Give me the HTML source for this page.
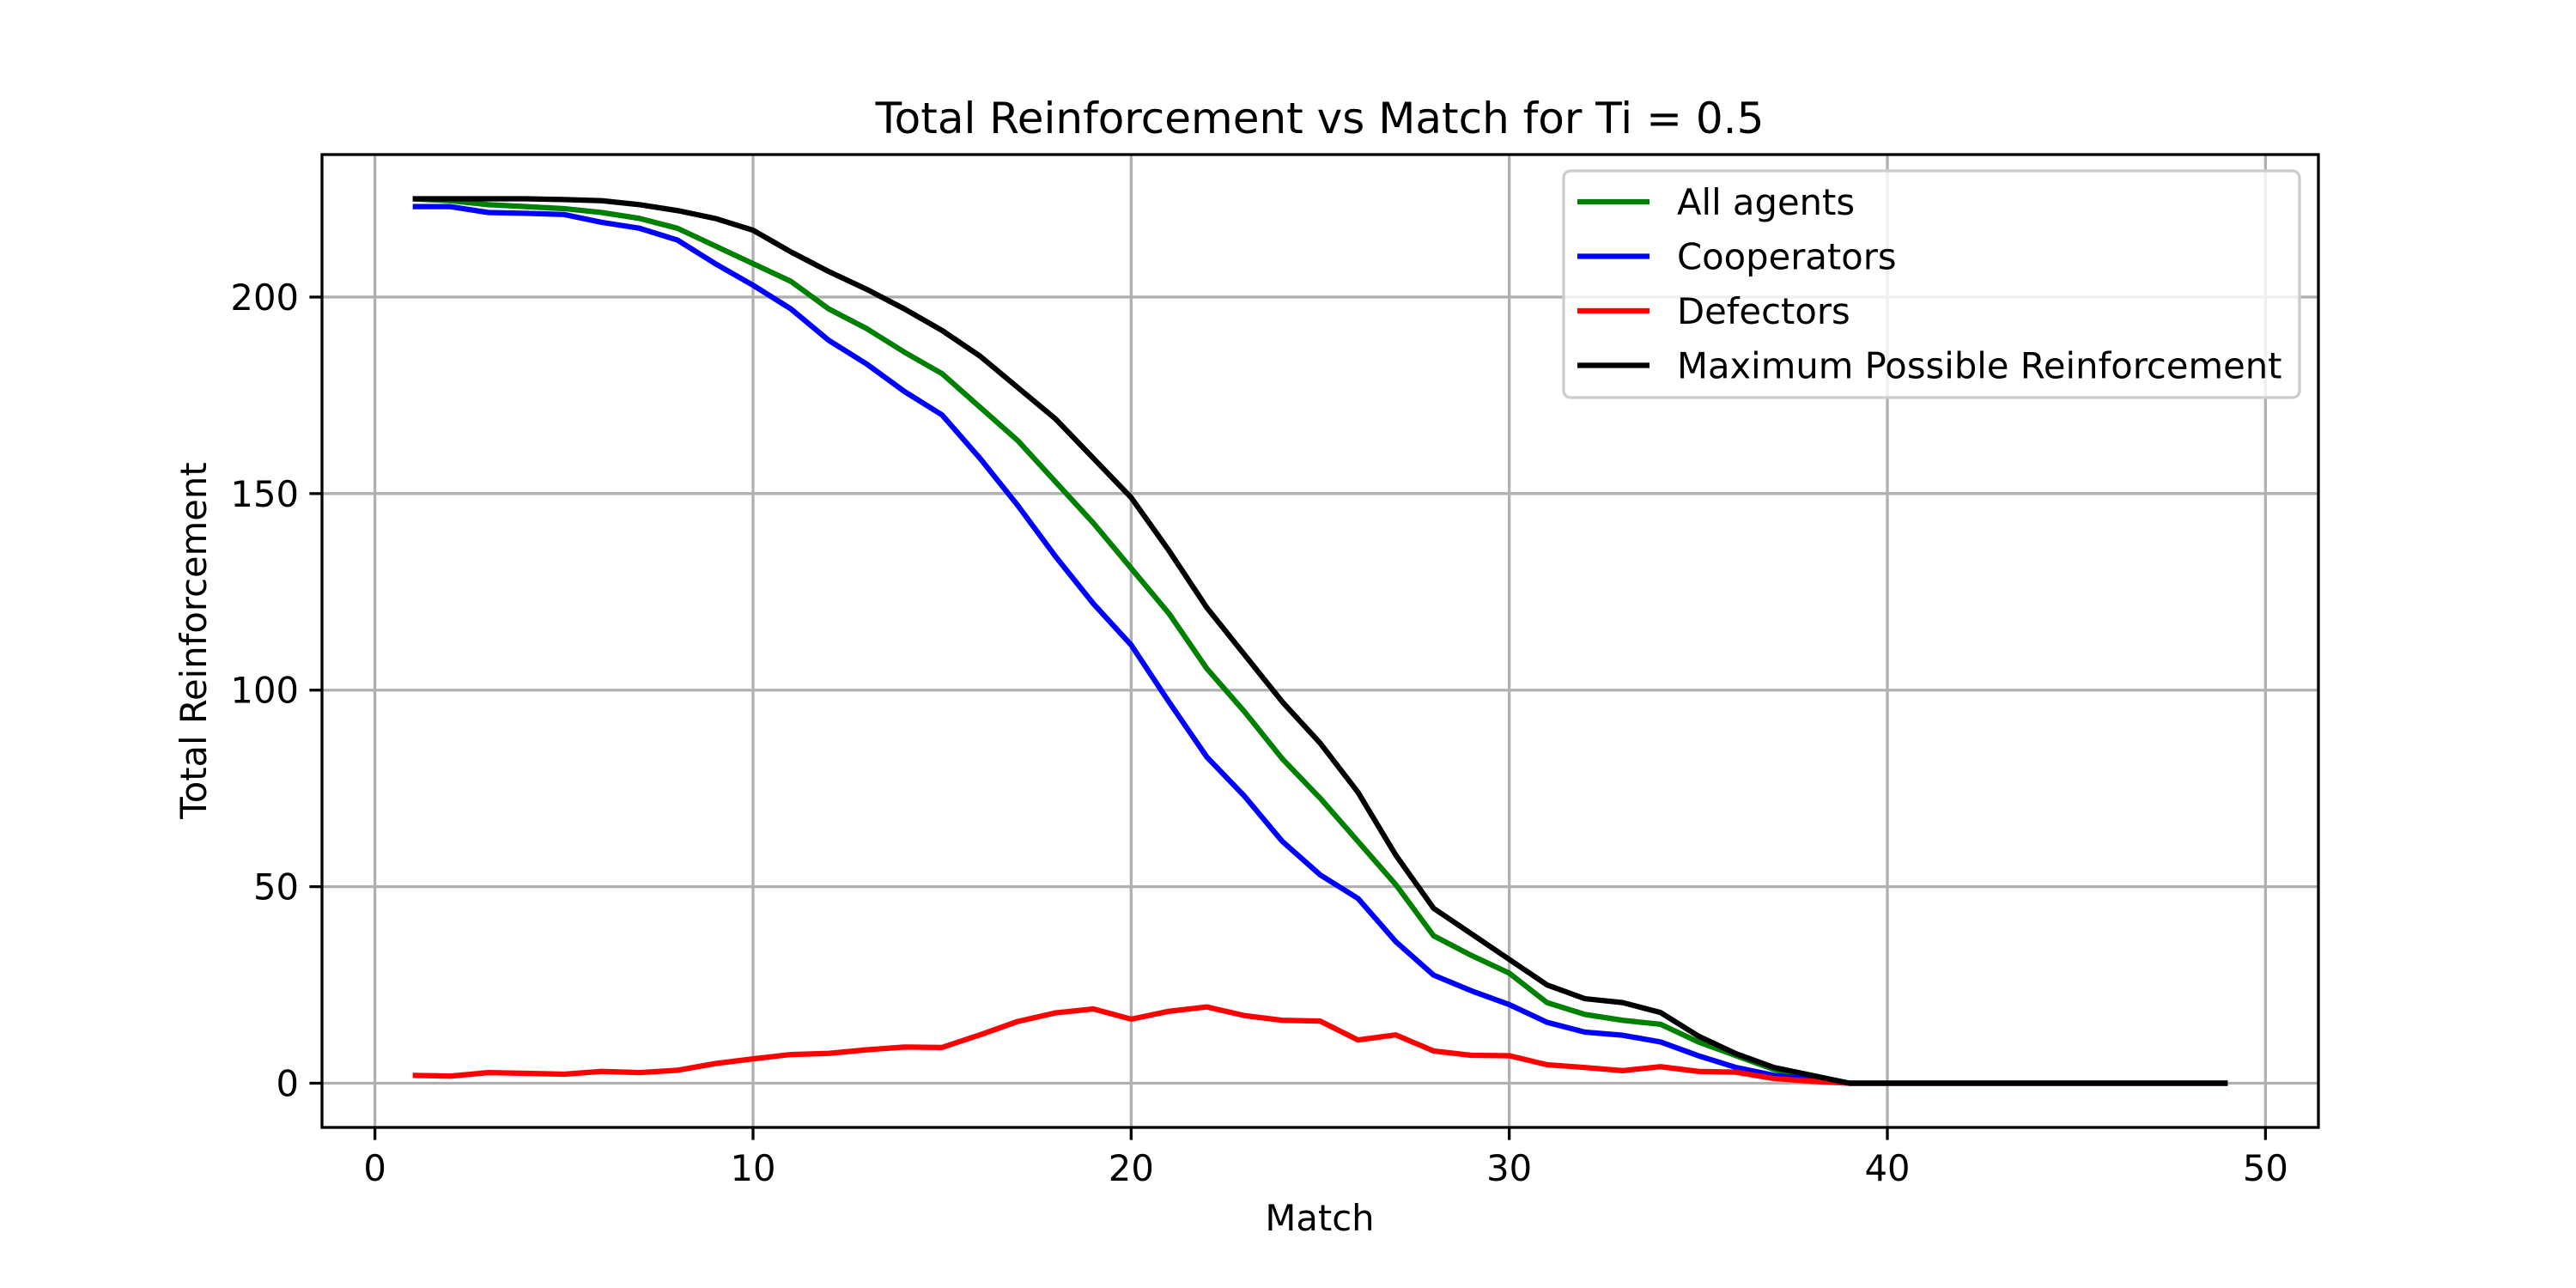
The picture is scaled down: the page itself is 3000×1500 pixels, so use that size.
<!DOCTYPE html>
<html><head><meta charset="utf-8"><style>
html,body{margin:0;padding:0;background:#fff;}
svg{display:block;font-family:"DejaVu Sans","Liberation Sans",sans-serif;}
</style></head><body>
<svg id="chart" width="3000" height="1500" viewBox="0 0 3000 1500" xmlns="http://www.w3.org/2000/svg">
<rect width="3000" height="1500" fill="#fff"/>
<g id="grid"></g>
<g id="series"></g>
<rect x="375" y="180" width="2325" height="1133" fill="none" stroke="#000" stroke-width="3.3"/>
<g id="ticks"></g>
<text x="1537" y="155" font-size="50" text-anchor="middle">Total Reinforcement vs Match for Ti = 0.5</text>
<text x="1537" y="1433" font-size="41.7" text-anchor="middle">Match</text>
<text x="240" y="746" font-size="41.7" text-anchor="middle" transform="rotate(-90 240 746)">Total Reinforcement</text>
<g id="legend"></g>
</svg>
<script>
const matches = Array.from({length:49},(_,i)=>i+1);
const allAgents = [225,224.5,223.5,223,222.5,221.5,220,217.5,213,208.5,204,197,192,186,180.5,172,163.5,153,142.5,131,119.5,105.5,94.5,82.5,72.5,61.5,50.5,37.5,32.5,28,20.5,17.5,16,15,10.5,7,3.5,1.5,0,0,0,0,0,0,0,0,0,0,0];
const cooperators = [223,223,221.5,221.3,221,219,217.5,214.5,208.5,203,197,189,183,176,170,159,147,134,122,111.5,97,83,73,61.5,53,47,36,27.5,23.5,20,15.5,13,12.2,10.5,7,4,2,1,0,0,0,0,0,0,0,0,0,0,0];
const defectors = [2,1.8,2.7,2.5,2.3,3,2.7,3.3,5,6.2,7.3,7.6,8.5,9.2,9.1,12.3,15.7,17.9,18.9,16.3,18.3,19.4,17.2,16,15.8,11,12.3,8.2,7.1,7,4.7,4,3.2,4.2,3,2.8,1.2,0.5,0,0,0,0,0,0,0,0,0,0,0];
const maxPossible = [225,225,225,225,224.8,224.5,223.5,222,220,217,211.5,206.5,202,197,191.5,185,177,169,159,149,135.5,121,109,97,86.5,74,58,44.5,38,31.5,25,21.5,20.5,18,12,7.5,4,2,0,0,0,0,0,0,0,0,0,0,0];
const xTicks = [0,10,20,30,40,50];
const yTicks = [0,50,100,150,200];
const seriesNames = ["All agents","Cooperators","Defectors","Maximum Possible Reinforcement"];
const seriesColors = ["#008000","#0000ff","#ff0000","#000000"];

const NS="http://www.w3.org/2000/svg";
const L=375,R=2700,T=180,B=1313;
const xMin=-1.4,xMax=51.4,yMin=-11.25,yMax=236.25;
const sx=v=>L+(v-xMin)/(xMax-xMin)*(R-L);
const sy=v=>B-(v-yMin)/(yMax-yMin)*(B-T);
function mk(tag,attrs,parent){const e=document.createElementNS(NS,tag);for(const k in attrs)e.setAttribute(k,attrs[k]);parent.appendChild(e);return e;}
const grid=document.getElementById('grid'),ticks=document.getElementById('ticks'),ser=document.getElementById('series'),leg=document.getElementById('legend');
xTicks.forEach(t=>{
  const g=mk('line',{x1:sx(t),x2:sx(t),y1:T,y2:B,stroke:'#b0b0b0','stroke-width':3.3},grid);
  
  
  const tk=mk('line',{x1:sx(t),x2:sx(t),y1:B,y2:B+14.6,stroke:'#000','stroke-width':3.3},ticks);
  
  
  const tx=mk('text',{x:sx(t),y:B+62,'font-size':41.7,'text-anchor':'middle'},ticks);
  tx.textContent=t;
  
  
});
yTicks.forEach(t=>{
  const g=mk('line',{x1:L,x2:R,y1:sy(t),y2:sy(t),stroke:'#b0b0b0','stroke-width':3.3},grid);
  
  
  const tk=mk('line',{x1:L-14.6,x2:L,y1:sy(t),y2:sy(t),stroke:'#000','stroke-width':3.3},ticks);
  
  
  const tx=mk('text',{x:L-27,y:sy(t)+15,'font-size':41.7,'text-anchor':'end'},ticks);
  tx.textContent=t;
  
  
});
[allAgents,cooperators,defectors,maxPossible].forEach((vals,i)=>{
  const p=mk('polyline',{points:vals.map((v,j)=>sx(matches[j])+','+sy(v)).join(' '),fill:'none',stroke:seriesColors[i],'stroke-width':6.25,'stroke-linejoin':'round'},ser);
  
  
});
const box=mk('rect',{x:1821,y:199,width:857,height:264,rx:8,fill:'#fff','fill-opacity':0.8,stroke:'#cccccc','stroke-width':3.3},leg);


seriesNames.forEach((n,i)=>{
  const y=235+i*63.5;
  const ln=mk('line',{x1:1837,x2:1921,y1:y,y2:y,stroke:seriesColors[i],'stroke-width':6.25},leg);
  
  
  const tx=mk('text',{x:1953,y:y+15,'font-size':41.7},leg);
  tx.textContent=n;
  
  
});
</script>
</body></html>
